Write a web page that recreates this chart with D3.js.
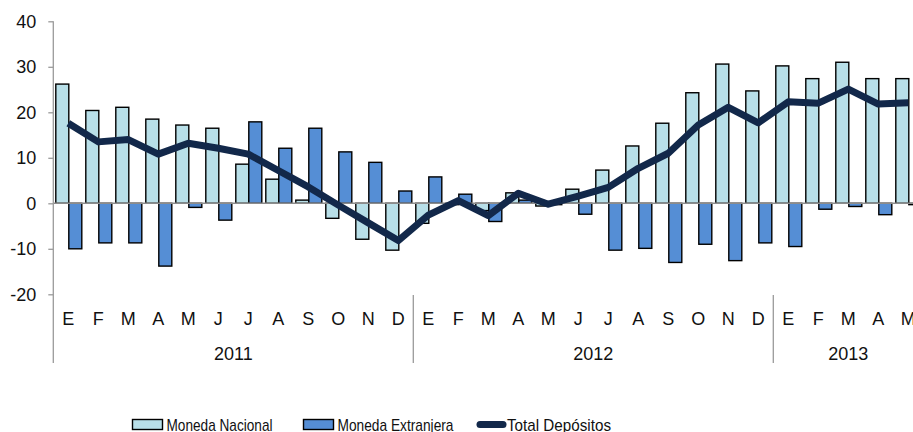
<!DOCTYPE html>
<html>
<head>
<meta charset="utf-8">
<script src="https://cdn.jsdelivr.net/npm/d3@7"></script>
<style>
  body { margin: 0; background: #fff; }
  svg { display: block; font-family: "Liberation Sans", Arial, sans-serif; }
</style>
</head>
<body>
<script>
// months (E = enero ...), one per bar group
let meses = ['E','F','M','A','M','J','J','A','S','O','N','D',
             'E','F','M','A','M','J','J','A','S','O','N','D',
             'E','F','M','A','M'];
let anios = ['2011', '2012', '2013'];
let mesesPorAnio = [12, 12, 5];

let nacional = [26.2, 20.4, 21.1, 18.5, 17.2, 16.5, 8.6, 5.3, 0.7, -3.3, -7.9, -10.3,
                -4.4, -0.3, -1.6, 2.3, -0.6, 3.1, 7.3, 12.6, 17.6, 24.3, 30.6, 24.7,
                30.2, 27.4, 31.0, 27.4, 27.4];
let extranjera = [-10.0, -8.7, -8.7, -13.8, -0.9, -3.7, 17.9, 12.1, 16.5, 11.3, 9.0, 2.7,
                  5.8, 2.0, -4.0, 0.7, -0.3, -2.4, -10.3, -9.9, -13.0, -9.0, -12.6, -8.7,
                  -9.5, -1.3, -0.7, -2.5, -0.3];
let total = [17.6, 13.5, 14.0, 10.8, 13.2, 12.1, 10.8, 7.2, 3.6, -0.4, -4.3, -8.2,
             -2.6, 0.6, -2.7, 2.2, -0.2, 1.6, 3.5, 7.7, 11.0, 17.2, 21.1, 17.7,
             22.3, 22.0, 25.1, 21.8, 22.1];
let yTicks = [-20, -10, 0, 10, 20, 30, 40];

let width = 913, height = 432;
let left = 53.3, band = 30, axisBottom = 363;

let svg = d3.select('body').append('svg')
            .attr('width', width)
            .attr('height', height);

let x = d3.scaleBand()
          .domain(d3.range(meses.length))
          .range([left, left + band * meses.length]);

let y = d3.scaleLinear()
          .domain([-20, 40])
          .range([294.3, 21.3]);

let grey = '#9a9a9a';

// bars
let bars = svg.append('g');
bars.selectAll('.nac')
    .data(nacional)
    .enter().append('rect')
    .attr('x', (d, i) => x(i) + 2.5)
    .attr('width', 13)
    .attr('y', d => y(Math.max(0, d)))
    .attr('height', d => Math.abs(y(d) - y(0)))
    .attr('fill', '#b8dfe8')
    .attr('stroke', '#000')
    .attr('stroke-width', 1.4);

bars.selectAll('.ext')
    .data(extranjera)
    .enter().append('rect')
    .attr('x', (d, i) => x(i) + 15.5)
    .attr('width', 13)
    .attr('y', d => y(Math.max(0, d)))
    .attr('height', d => Math.abs(y(d) - y(0)))
    .attr('fill', '#558ed5')
    .attr('stroke', '#000')
    .attr('stroke-width', 1.4);

// zero line
svg.append('line')
   .attr('x1', left).attr('x2', width)
   .attr('y1', y(0)).attr('y2', y(0))
   .attr('stroke', '#8c8c8c')
   .attr('stroke-width', 1.6);

// y axis (plain hyphen for negatives, like the original)
let yAxis = svg.append('g')
               .attr('transform', 'translate(' + left + ',0)')
               .call(d3.axisLeft(y).tickValues(yTicks).tickSize(5).tickPadding(12)
                       .tickFormat(d => String(d)));
yAxis.select('.domain').remove();
yAxis.selectAll('line').attr('stroke', grey).attr('stroke-width', 1.3);
yAxis.selectAll('text')
     .attr('font-size', 18)
     .attr('font-family', '"Liberation Sans", Arial, sans-serif')
     .attr('fill', '#111');

svg.append('line')
   .attr('x1', left).attr('x2', left)
   .attr('y1', y(40)).attr('y2', axisBottom)
   .attr('stroke', grey).attr('stroke-width', 1.3);

// total line
let line = d3.line()
             .x((d, i) => x(i) + band / 2)
             .y(d => y(d));

svg.append('path')
   .datum(total)
   .attr('d', line)
   .attr('fill', 'none')
   .attr('stroke', '#12284a')
   .attr('stroke-width', 7)
   .attr('stroke-linejoin', 'round');

// month labels
svg.append('g').selectAll('text')
   .data(meses)
   .enter().append('text')
   .attr('x', (d, i) => x(i) + band / 2)
   .attr('y', 325)
   .attr('text-anchor', 'middle')
   .attr('font-size', 18)
   .attr('fill', '#111')
   .text(d => d);

// year labels and separators
let start = 0;
anios.forEach((a, k) => {
  let n = mesesPorAnio[k];
  let x0 = x(start), x1 = x(start + n - 1) + band;
  svg.append('text')
     .attr('x', (x0 + x1) / 2)
     .attr('y', 360)
     .attr('text-anchor', 'middle')
     .attr('font-size', 18)
     .attr('fill', '#111')
     .text(a);
  if (k > 0) {
    svg.append('line')
       .attr('x1', x0).attr('x2', x0)
       .attr('y1', 295).attr('y2', axisBottom)
       .attr('stroke', grey).attr('stroke-width', 1.3);
  }
  start += n;
});

// legend
let legend = svg.append('g');
let items = [
  {label: 'Moneda Nacional', type: 'rect', fill: '#b8dfe8', x: 132.5, len: 106},
  {label: 'Moneda Extranjera', type: 'rect', fill: '#558ed5', x: 303.5, len: 116},
  {label: 'Total Depósitos', type: 'line', fill: '#12284a', x: 477, len: 104}
];
items.forEach(it => {
  if (it.type === 'rect') {
    legend.append('rect')
          .attr('x', it.x).attr('y', 419.5)
          .attr('width', 30).attr('height', 10)
          .attr('fill', it.fill)
          .attr('stroke', '#000').attr('stroke-width', 1.4);
  } else {
    legend.append('line')
          .attr('x1', it.x + 3).attr('x2', it.x + 26)
          .attr('y1', 424.5).attr('y2', 424.5)
          .attr('stroke', it.fill).attr('stroke-width', 7)
          .attr('stroke-linecap', 'round');
  }
  legend.append('text')
        .attr('x', it.x + (it.type === 'rect' ? 34 : 30))
        .attr('y', 431)
        .attr('font-size', 17)
        .attr('fill', '#111')
        .attr('textLength', it.len)
        .attr('lengthAdjust', 'spacingAndGlyphs')
        .text(it.label);
});
</script>
</body>
</html>
